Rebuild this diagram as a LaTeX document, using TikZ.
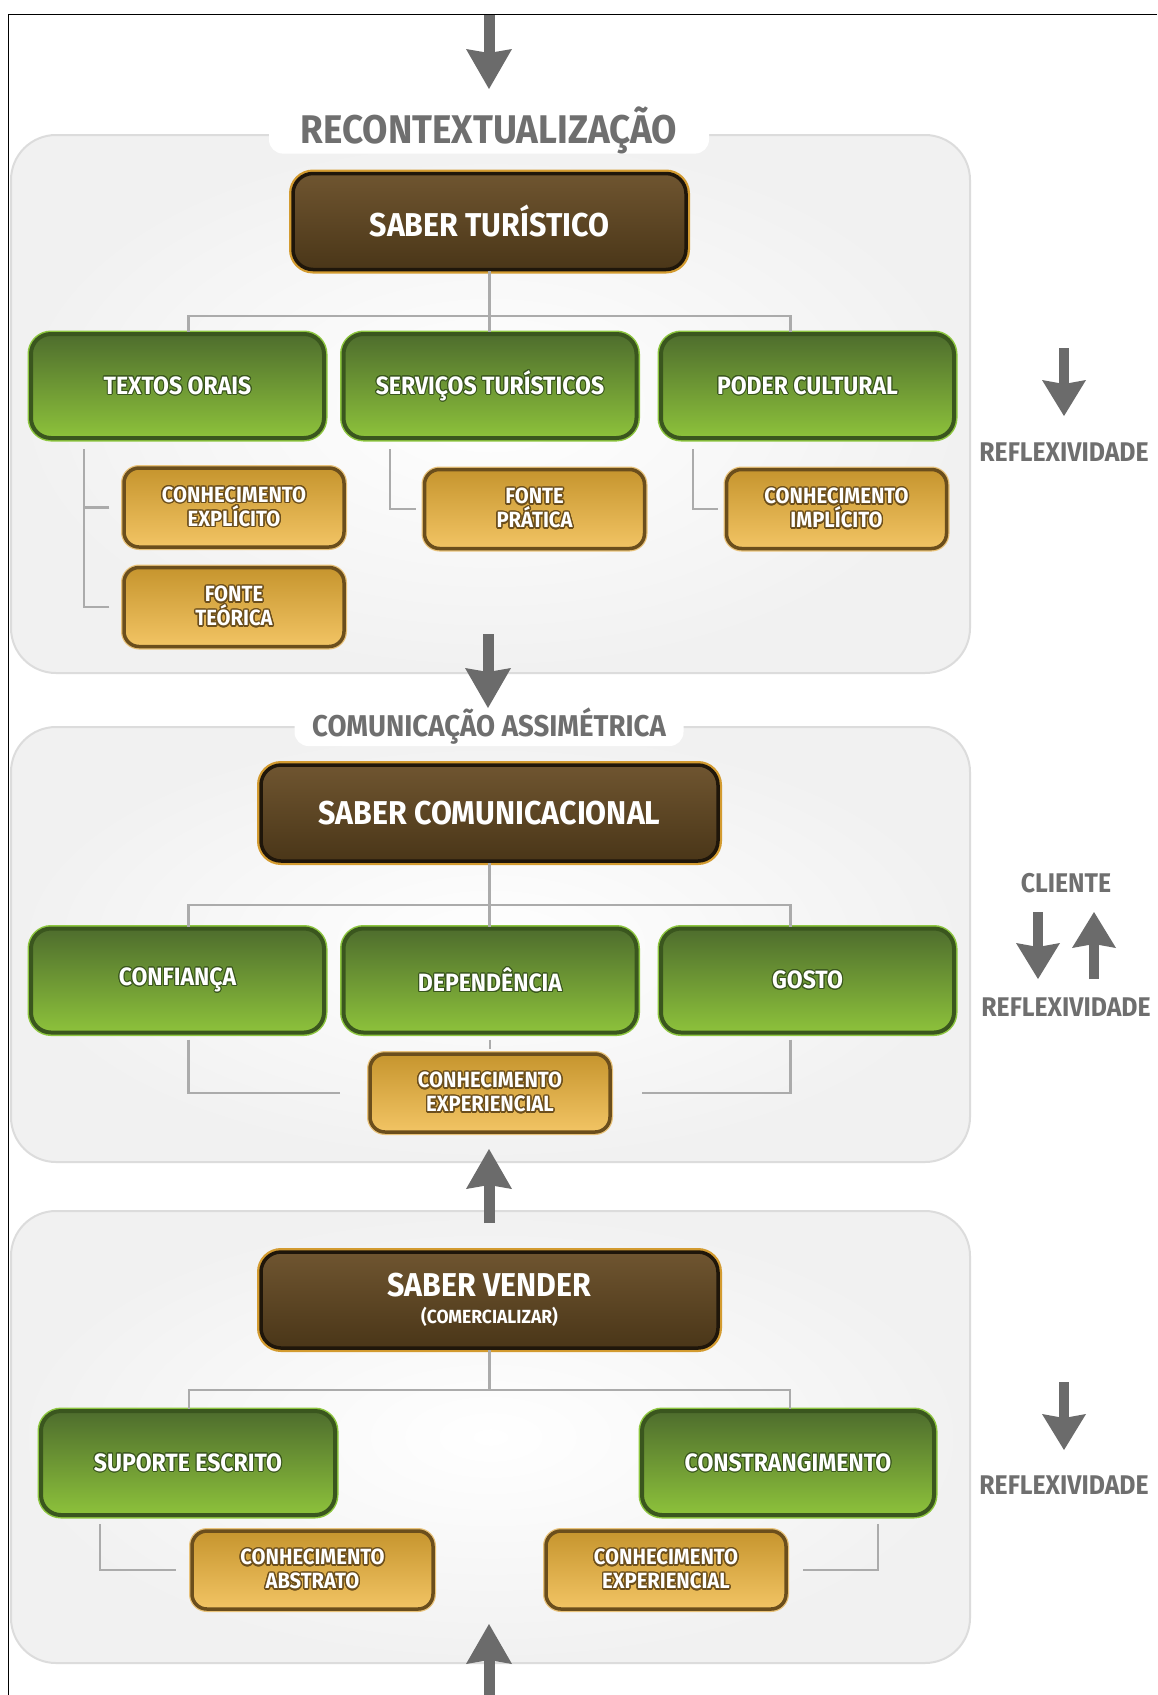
\documentclass[tikz,border=0pt]{standalone}
\usepackage{fontspec}
\setmainfont{Fira Sans}[FakeStretch=0.92]
\usepackage{contour}
\usetikzlibrary{arrows.meta, positioning, calc}

\definecolor{panelline}{HTML}{DCDCDC}
\definecolor{panelfill}{HTML}{F1F1F1}
\definecolor{titlegray}{HTML}{6F6F6F}
\definecolor{linkgray}{HTML}{ABABAB}
\definecolor{arrowgray}{HTML}{6B6B6B}
\definecolor{browntop}{HTML}{6F5530}
\definecolor{brownbot}{HTML}{4A3618}
\definecolor{brownedge}{HTML}{1F160A}
\definecolor{brownrim}{HTML}{D39B30}
\definecolor{greentop}{HTML}{4E6D2D}
\definecolor{greenbot}{HTML}{8DC23B}
\definecolor{greenedge}{HTML}{3A561E}
\definecolor{greenrim}{HTML}{8DC63F}
\definecolor{goldtop}{HTML}{C6952E}
\definecolor{goldbot}{HTML}{F2C464}
\definecolor{goldedge}{HTML}{6B4E1C}
\definecolor{goldrim}{HTML}{E8C27A}

\contourlength{1pt}
\newcommand{\gtxt}[1]{\contour{greenedge}{#1}}
\newcommand{\otxt}[1]{\contourlength{1.4pt}\contour{goldedge}{#1}}

\begin{document}
\begin{tikzpicture}[
    x=1pt, y=-1pt,
    panel/.style={rectangle, rounded corners=45pt, draw=panelline, line width=2pt, inner color=white, outer color=panelfill, minimum width=959pt, inner sep=0pt},
    heading/.style={rectangle, rounded corners=14pt, fill=white, text=titlegray, inner sep=0pt},
    saber/.style={rectangle, rounded corners=20pt, minimum height=96pt, top color=browntop, bottom color=brownbot, draw=brownedge, line width=3.5pt, preaction={draw=brownrim, line width=8pt}, text=white, font=\fontsize{33}{36}\selectfont\bfseries, align=center, inner sep=0pt},
    pilar/.style={rectangle, rounded corners=20pt, minimum width=293pt, minimum height=104pt, top color=greentop, bottom color=greenbot, draw=greenedge, line width=4pt, preaction={draw=greenrim, line width=7pt}, text=white, font=\fontsize{25}{28}\selectfont\bfseries, inner sep=0pt},
    fonte/.style={rectangle, rounded corners=15pt, minimum width=220pt, minimum height=79pt, top color=goldtop, bottom color=goldbot, draw=goldedge, line width=3.5pt, preaction={draw=goldrim, line width=6pt}, text=white, font=\fontsize{22}{24}\selectfont\bfseries, align=center, inner sep=0pt},
    link/.style={draw=linkgray, line width=2.2pt},
    bigarrow/.style={draw=arrowgray, line width=11pt, -{Stealth[length=40pt, width=46pt, inset=4pt, line width=0pt]}},
    sidearrow/.style={draw=arrowgray, line width=10pt, -{Stealth[length=36pt, width=44pt, inset=4pt, line width=0pt]}},
    side/.style={text=titlegray, font=\fontsize{27}{29}\selectfont\bfseries, inner sep=0pt}
]
    \path[use as bounding box, fill=white] (0,0) rectangle (1157,1695);
    \draw[line width=1.5pt] (1157,14.5) -- (8.5,14.5) -- (8.5,1695);

    % panels
    \node (p1) [panel, minimum height=538pt] at (490.5,404) {};
    \node (p2) [panel, minimum height=435pt] at (490.5,944.5) {};
    \node (p3) [panel, minimum height=452pt] at (490.5,1437) {};

    \node (t1) [heading, minimum width=440pt, minimum height=46pt, font=\fontsize{40}{44}\selectfont\bfseries] at (489,130) {RECONTEXTUALIZAÇÃO};
    \node (t2) [heading, minimum width=389pt, minimum height=40pt, font=\fontsize{30}{32}\selectfont\bfseries] at (489,726) {COMUNICAÇÃO ASSIMÉTRICA};

    % saber turistico
    \node (b1) [saber, minimum width=393pt] at (489.5,221.5) {SABER TURÍSTICO};
    \node (g11) [pilar] at (177.5,386) {\gtxt{TEXTOS ORAIS}};
    \node (g12) [pilar] at (490,386) {\gtxt{SERVIÇOS TURÍSTICOS}};
    \node (g13) [pilar] at (807.5,386) {\gtxt{PODER CULTURAL}};
    \node (k11) [fonte] at (234,507.5) {\otxt{CONHECIMENTO}\\\otxt{EXPLÍCITO}};
    \node (k12) [fonte] at (234,607) {\otxt{FONTE}\\\otxt{TEÓRICA}};
    \node (k13) [fonte] at (534.5,509) {\otxt{FONTE}\\\otxt{PRÁTICA}};
    \node (k14) [fonte] at (836.5,509) {\otxt{CONHECIMENTO}\\\otxt{IMPLÍCITO}};

    \coordinate (j1) at ($(b1.south)+(0,45)$);
    \draw[link] (b1.south) -- (j1);
    \draw[link] ([xshift=11pt]g11.north) |- (j1) -| ([xshift=-17pt]g13.north);
    \draw[link] (j1) -- (j1 |- g12.north);
    \draw[link] ([xshift=-13pt]k11.west) -| ([xshift=-93.5pt, yshift=-9pt]g11.south);
    \draw[link] ([xshift=-13pt]k12.west) -| ([xshift=-93.5pt, yshift=-9pt]g11.south);
    \draw[link] ([xshift=-7pt]k13.west) -| ([xshift=-100pt, yshift=-9pt]g12.south);
    \draw[link] ([xshift=-7pt]k14.west) -| ([xshift=-114.5pt, yshift=-9pt]g13.south);

    % saber comunicacional
    \node (b2) [saber, minimum width=457pt] at (489.5,813) {SABER COMUNICACIONAL};
    \node (g21) [pilar] at (177.5,980.5) {\gtxt{CONFIANÇA}};
    \node (g22) [pilar] at (490,980.5) {\gtxt{DEPENDÊNCIA}};
    \node (g23) [pilar] at (807.5,980.5) {\gtxt{GOSTO}};
    \node (k21) [fonte, minimum width=240pt, minimum height=78pt] at (490,1093) {\otxt{CONHECIMENTO}\\\otxt{EXPERIENCIAL}};

    \coordinate (j2) at ($(b2.south)+(0,42)$);
    \draw[link] (b2.south) -- (j2);
    \draw[link] ([xshift=11pt]g21.north) |- (j2) -| ([xshift=-17pt]g23.north);
    \draw[link] (j2) -- (j2 |- g22.north);
    \draw[link] ([xshift=11pt, yshift=-5pt]g21.south) |- ([xshift=-28pt]k21.west);
    \draw[link] ([xshift=-17pt, yshift=-5pt]g23.south) |- ([xshift=30pt]k21.east);
    \draw[link] ([yshift=-5pt]g22.south) -- ([yshift=3pt]k21.north);

    % saber vender
    \node (b3) [saber, minimum width=457pt] at (489.5,1300) {SABER VENDER\\[-9pt]{\fontsize{19}{21}\selectfont (COMERCIALIZAR)}};
    \node (g31) [pilar, minimum width=294pt] at (188,1463) {\gtxt{SUPORTE ESCRITO}};
    \node (g32) [pilar, minimum width=292pt] at (788,1463) {\gtxt{CONSTRANGIMENTO}};
    \node (k31) [fonte, minimum width=241pt, minimum height=78pt] at (312.5,1570) {\otxt{CONHECIMENTO}\\\otxt{ABSTRATO}};
    \node (k32) [fonte, minimum width=240pt, minimum height=78pt] at (666,1570) {\otxt{CONHECIMENTO}\\\otxt{EXPERIENCIAL}};

    \coordinate (j3) at ($(b3.south)+(0,40)$);
    \draw[link] (b3.south) -- (j3);
    \draw[link] ([xshift=1pt]g31.north) |- (j3) -| ([xshift=2pt]g32.north);
    \draw[link] ([xshift=-88pt, yshift=-7pt]g31.south) |- ([xshift=-14pt]k31.west);
    \draw[link] ([xshift=90pt, yshift=-7pt]g32.south) |- ([xshift=15pt]k32.east);

    % side labels
    \node (r1) [side] at (1064,452) {REFLEXIVIDADE};
    \node (cl) [side] at (1066,883) {CLIENTE};
    \node (r2) [side] at (1066,1007) {REFLEXIVIDADE};
    \node (r3) [side] at (1064,1485) {REFLEXIVIDADE};

    % arrows
    \coordinate (a0s) at (489,15);   \coordinate (a0e) at (489,89);
    \coordinate (a1s) at (488,634);  \coordinate (a1e) at (488,708);
    \coordinate (a2s) at (489,1223); \coordinate (a2e) at (489,1149);
    \coordinate (a3s) at (489,1700); \coordinate (a3e) at (489,1624);
    \draw[bigarrow] (a0s) -- (a0e);
    \draw[bigarrow] (a1s) -- (a1e);
    \draw[bigarrow] (a2s) -- (a2e);
    \draw[bigarrow] (a3s) -- (a3e);

    \coordinate (s1s) at (1064,348);  \coordinate (s1e) at (1064,416);
    \coordinate (s2s) at (1038,912);  \coordinate (s2e) at (1038,979);
    \coordinate (s3s) at (1094,979);  \coordinate (s3e) at (1094,912);
    \coordinate (s4s) at (1064,1382); \coordinate (s4e) at (1064,1450);
    \draw[sidearrow] (s1s) -- (s1e);
    \draw[sidearrow] (s2s) -- (s2e);
    \draw[sidearrow] (s3s) -- (s3e);
    \draw[sidearrow] (s4s) -- (s4e);
\end{tikzpicture}
\end{document}
